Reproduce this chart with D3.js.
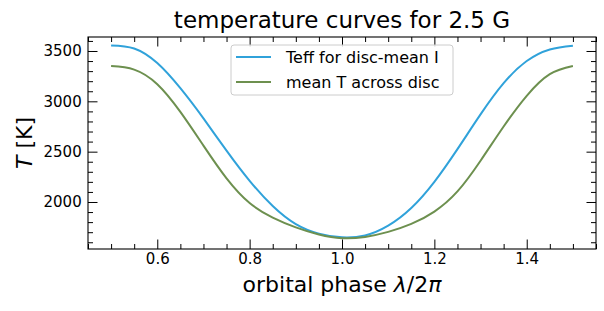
<!DOCTYPE html>
<html><head><meta charset="utf-8">
<script src="https://cdn.jsdelivr.net/npm/d3@7"></script>
<style>
body{margin:0;background:#fff}
svg{display:block}
text{font-family:"DejaVu Sans",sans-serif;fill:#000}
</style>
</head><body>
<svg id="c" width="604" height="311"></svg>
<script>
// ---- data ----
const phase = [0.5,0.55,0.6,0.65,0.7,0.75,0.8,0.85,0.9,0.95,1.0,1.05,1.1,1.15,1.2,1.25,1.3,1.35,1.4,1.45,1.5];
const teffDiscMeanI = [3555,3525,3380,3130,2830,2510,2210,1960,1780,1685,1649,1668,1765,1940,2200,2525,2870,3180,3400,3515,3553];
const meanTAcrossDisc = [3350,3315,3170,2895,2560,2235,1990,1845,1748,1677,1640,1653,1703,1782,1905,2105,2410,2750,3055,3270,3351];
const seriesNames = ["Teff for disc-mean I","mean T across disc"];
const seriesColors = ["#30a2da","#6d904f"];
const xTicks = [0.6,0.8,1.0,1.2,1.4];
const xMinor = [0.45,0.5,0.55,0.65,0.7,0.75,0.85,0.9,0.95,1.05,1.1,1.15,1.25,1.3,1.35,1.45,1.5,1.55];
const yTicks = [2000,2500,3000,3500];
const yMinor = [1600,1700,1800,1900,2100,2200,2300,2400,2600,2700,2800,2900,3100,3200,3300,3400,3600];
const titleText = "temperature curves for 2.5 G";

// ---- layout ----
const L=88, R=596, T=37, B=249;
const svg = d3.select("#c");
const x = d3.scaleLinear().domain([0.45,1.55]).range([L,R]);
const y = d3.scaleLinear().domain([1533,3639]).range([B,T]);

const series = [teffDiscMeanI, meanTAcrossDisc];
const line = d3.line().x((d,i)=>x(phase[i])).y(d=>y(d)).curve(d3.curveNatural);
series.forEach((s,k)=>{
  svg.append("path").datum(s).attr("d",line).attr("fill","none")
    .attr("stroke",seriesColors[k]).attr("stroke-width",2);
});

// frame
svg.append("rect").attr("x",L).attr("y",T).attr("width",R-L).attr("height",B-T)
  .attr("fill","none").attr("stroke","#000").attr("stroke-width",1.1);

function styleAxis(g, fs){
  g.select(".domain").remove();
  g.selectAll("line").attr("stroke","#000").attr("stroke-width",1);
  g.selectAll("text").style("font-family","DejaVu Sans").style("font-size",fs).attr("fill","#000");
}
const inMaj=9.5, inMin=5;
// bottom
svg.append("g").attr("transform",`translate(0,${B})`)
  .call(d3.axisBottom(x).tickValues(xTicks).tickSize(-inMaj).tickPadding(4.5).tickFormat(d3.format(".1f")))
  .call(g=>styleAxis(g,"15px"));
svg.append("g").attr("transform",`translate(0,${B})`)
  .call(d3.axisBottom(x).tickValues(xMinor).tickSize(-inMin).tickFormat(""))
  .call(g=>styleAxis(g,"15px"));
// top
svg.append("g").attr("transform",`translate(0,${T})`)
  .call(d3.axisTop(x).tickValues(xTicks).tickSize(-inMaj).tickFormat(""))
  .call(g=>styleAxis(g,"15px"));
svg.append("g").attr("transform",`translate(0,${T})`)
  .call(d3.axisTop(x).tickValues(xMinor).tickSize(-inMin).tickFormat(""))
  .call(g=>styleAxis(g,"15px"));
// left
svg.append("g").attr("transform",`translate(${L},0)`)
  .call(d3.axisLeft(y).tickValues(yTicks).tickSize(-inMaj).tickPadding(6.3).tickFormat(d3.format("d")))
  .call(g=>styleAxis(g,"15px"));
svg.append("g").attr("transform",`translate(${L},0)`)
  .call(d3.axisLeft(y).tickValues(yMinor).tickSize(-inMin).tickFormat(""))
  .call(g=>styleAxis(g,"15px"));
// right
svg.append("g").attr("transform",`translate(${R},0)`)
  .call(d3.axisRight(y).tickValues(yTicks).tickSize(-inMaj).tickFormat(""))
  .call(g=>styleAxis(g,"15px"));
svg.append("g").attr("transform",`translate(${R},0)`)
  .call(d3.axisRight(y).tickValues(yMinor).tickSize(-inMin).tickFormat(""))
  .call(g=>styleAxis(g,"15px"));

// title
svg.append("text").attr("x",(L+R)/2).attr("y",28).attr("text-anchor","middle")
  .style("font-size","23px").text(titleText);

// x label
const xl = svg.append("text").attr("x",(L+R)/2).attr("y",292).attr("text-anchor","middle").style("font-size","22px");
xl.append("tspan").text("orbital phase ");
xl.append("tspan").style("font-style","italic").text("λ");
xl.append("tspan").text("/2");
xl.append("tspan").style("font-style","italic").text("π");

// y label
const yl = svg.append("text").attr("transform",`translate(31.5,${(T+B)/2}) rotate(-90)`)
  .attr("text-anchor","middle").style("font-size","22px");
yl.append("tspan").style("font-style","italic").text("T");
yl.append("tspan").text(" [K]");

// legend
const lg = svg.append("g");
lg.append("rect").attr("x",231).attr("y",45).attr("width",222).attr("height",50).attr("rx",3)
  .attr("fill","#fff").attr("fill-opacity",0.8).attr("stroke","#cccccc").attr("stroke-width",1);
seriesNames.forEach((n,k)=>{
  const yy = 57 + k*25;
  lg.append("line").attr("x1",236).attr("x2",271).attr("y1",yy).attr("y2",yy)
    .attr("stroke",seriesColors[k]).attr("stroke-width",2);
  lg.append("text").attr("x",286).attr("y",yy+5.8).style("font-size","16px").text(n);
});
</script>
</body></html>
